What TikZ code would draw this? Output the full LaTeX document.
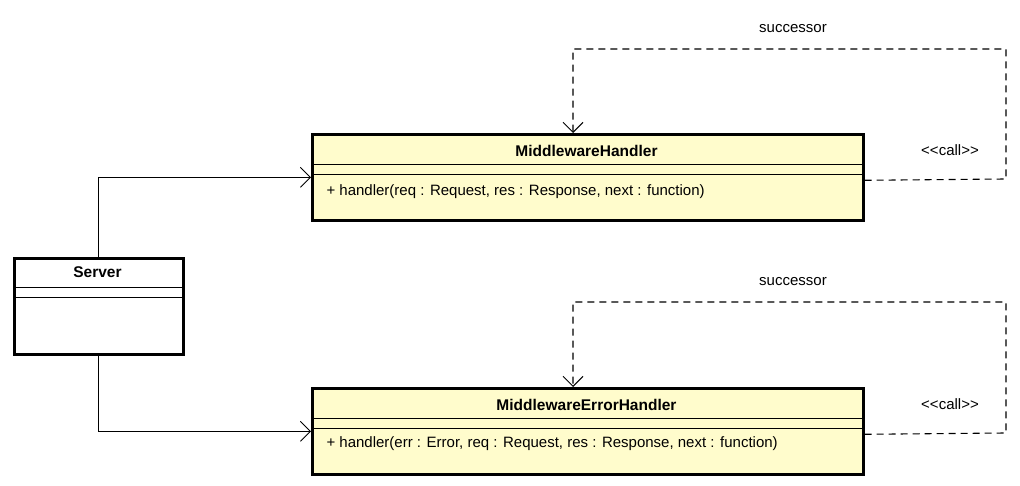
\documentclass[tikz,border=0pt]{standalone}
\usepackage{fontspec}
\setmainfont{Liberation Sans}
\usetikzlibrary{arrows.meta}
\begin{document}
\begin{tikzpicture}[x=1pt,y=-1pt,
  classbox/.style={draw=black,line width=2.6pt,fill=yellow!20,inner sep=0pt,anchor=north west},
  plainbox/.style={draw=black,line width=2.6pt,fill=white,inner sep=0pt,anchor=north west},
  divider/.style={line width=0.9pt},
  title/.style={font=\fontsize{15.5}{17}\selectfont\bfseries},
  member/.style={font=\fontsize{15}{17}\selectfont,anchor=west},
  lbl/.style={font=\fontsize{15}{17}\selectfont},
  assoc/.style={line width=0.9pt,-{Straight Barb[length=10pt,width=20pt,line width=0.9pt]}},
  dep/.style={line width=1.1pt,dash pattern=on 7pt off 5pt,-{Straight Barb[length=10pt,width=20pt,line width=1pt]}}]
\useasboundingbox (0,0) rectangle (1020,486);

% Server
\node[plainbox,minimum width=169pt,minimum height=96pt] (server) at (13,257) {};
\node[title] (servert) at (97.5,272) {Server};
\draw[divider] (13,287) -- (182,287);
\draw[divider] (13,297) -- (182,297);

% MiddlewareHandler
\node[classbox,minimum width=551pt,minimum height=86pt] (mh) at (311,133) {};
\node[title] (mht) at (586.5,151) {MiddlewareHandler};
\draw[divider] (311,164) -- (862,164);
\draw[divider] (311,174) -- (862,174);
\node[member] (mhm) at (323,192) {+ handler(req : Request, res : Response, next : function)};

% MiddlewareErrorHandler
\node[classbox,minimum width=551pt,minimum height=86pt] (meh) at (311,387) {};
\node[title] (meht) at (586.5,405) {MiddlewareErrorHandler};
\draw[divider] (311,418) -- (862,418);
\draw[divider] (311,428) -- (862,428);
\node[member] (mehm) at (323,444) {+ handler(err : Error, req : Request, res : Response, next : function)};

% associations
\draw[assoc] (server.north) |- (mh.west);
\draw[assoc] (server.south) |- (meh.west);

% self loops
\coordinate (mhtop) at (573,133);
\draw[dep] ([yshift=-3pt]mh.east) -- (1006,179) -- (1006,49) -- (573,49) -- (mhtop);
\node[lbl] (succ1) at (793,29) {successor};
\node[lbl] (call1) at (950,150) {{<}{<}call{>}{>}};

\coordinate (mehtop) at (573,387);
\draw[dep] ([yshift=-3pt]meh.east) -- (1006,433) -- (1006,302) -- (573,302) -- (mehtop);
\node[lbl] (succ2) at (793,282) {successor};
\node[lbl] (call2) at (950,404) {{<}{<}call{>}{>}};
\end{tikzpicture}
\end{document}
